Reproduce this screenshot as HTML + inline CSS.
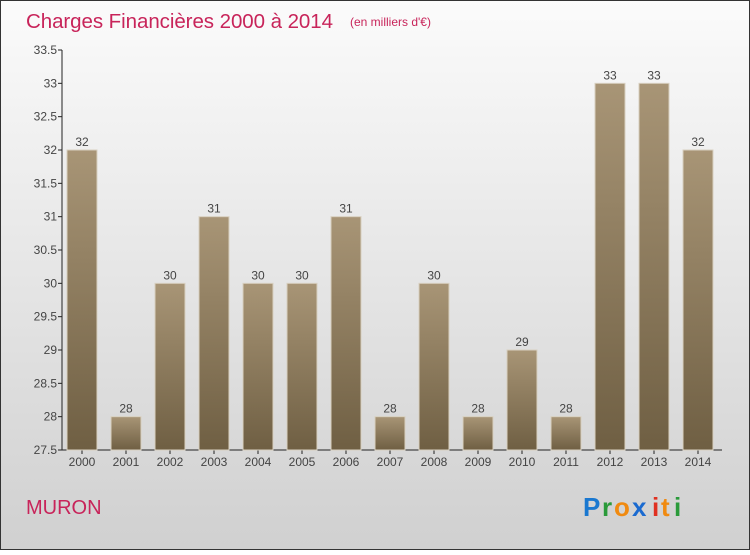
<!DOCTYPE html>
<html><head><meta charset="utf-8"><style>
html,body{margin:0;padding:0}
body{width:750px;height:550px;overflow:hidden;font-family:"Liberation Sans",sans-serif}
</style></head><body>
<svg width="750" height="550" xmlns="http://www.w3.org/2000/svg">
<defs>
<linearGradient id="bg" x1="0" y1="0" x2="0" y2="1"><stop offset="0" stop-color="#fbfbfb"/><stop offset="1" stop-color="#d0d0d0"/></linearGradient>
<linearGradient id="bar" x1="0" y1="0" x2="0" y2="1"><stop offset="0" stop-color="#a89576"/><stop offset="1" stop-color="#6f5f43"/></linearGradient>
</defs>
<rect x="0.5" y="0.5" width="749" height="549" fill="url(#bg)" stroke="#333"/>
<text x="26" y="28" font-size="20.5" fill="#c8245a" textLength="307">Charges Financières 2000 à 2014</text>
<text x="350" y="26" font-size="12" fill="#c8245a">(en milliers d'€)</text>
<g id="axes"></g>
<g id="bars"></g>
<text x="26" y="514" font-size="20" fill="#c8245a">MURON</text>
<g font-size="26" font-weight="bold">
<text x="583" y="516" fill="#1a78d0">P</text><text x="602" y="516" fill="#2a9a3a">r</text><text x="614" y="516" fill="#f08a10">o</text><text x="632" y="516" fill="#1a6ad0">x</text><text x="652" y="516" fill="#e03020">i</text><text x="661" y="516" fill="#f08a10">t</text><text x="674" y="516" fill="#2a9a3a">i</text>
</g>
</svg>
<script>
const categories=["2000","2001","2002","2003","2004","2005","2006","2007","2008","2009","2010","2011","2012","2013","2014"];
const values=[32,28,30,31,30,30,31,28,30,28,29,28,33,33,32];
const yTicks=[27.5,28,28.5,29,29.5,30,30.5,31,31.5,32,32.5,33,33.5];
const NS="http://www.w3.org/2000/svg";
const x0=62,x1=722,yTop=50,yBot=450,yMin=27.5,yMax=33.5;
const y=v=>yBot-(v-yMin)/(yMax-yMin)*(yBot-yTop);
const step=(x1-x0)/categories.length;
const xc=i=>x0+step*(i+0.5)-2;
function mk(t,a,p){const e=document.createElementNS(NS,t);for(const k in a)e.setAttribute(k,a[k]);p.appendChild(e);return e;}
const ax=document.getElementById('axes'),bg=document.getElementById('bars');
const yl=mk('line',{x1:x0,y1:yTop,x2:x0,y2:yBot,stroke:'#222'},ax);


const xl=mk('line',{x1:x0,y1:yBot,x2:x1,y2:yBot,stroke:'#222'},ax);


yTicks.forEach(v=>{
 mk('line',{x1:x0-4,y1:y(v),x2:x0,y2:y(v),stroke:'#222'},ax);
 const t=mk('text',{x:x0-5,y:y(v)+4,'font-size':12,fill:'#444','text-anchor':'end'},ax);
 t.textContent=String(v);
 
 
});
categories.forEach((c,i)=>{
 const cx=xc(i),v=values[i];
 const r=mk('rect',{x:cx-15,y:y(v),width:30,height:yBot-y(v),fill:'url(#bar)',stroke:'#d8d0c0','stroke-width':1},bg);
 
 
 const l=mk('text',{x:cx,y:y(v)-4,'font-size':12,fill:'#444','text-anchor':'middle'},bg);
 l.textContent=String(v);
 
 
 mk('line',{x1:cx,y1:yBot,x2:cx,y2:yBot+4,stroke:'#222'},ax);
 const t=mk('text',{x:cx,y:yBot+16,'font-size':12,fill:'#444','text-anchor':'middle'},ax);
 t.textContent=c;
 
 
});
</script>
</body></html>
